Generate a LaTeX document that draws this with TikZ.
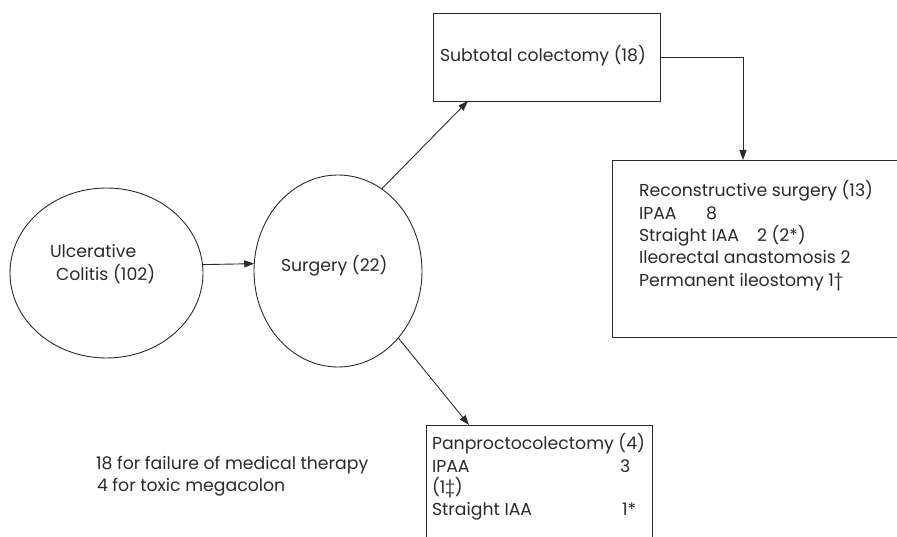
\documentclass[tikz,border=0pt]{standalone}
\usepackage{fontspec}
\setmainfont{Poppins}
\usetikzlibrary{shapes.geometric,arrows.meta}
\definecolor{ink}{HTML}{2A2A2A}
\begin{document}
\begin{tikzpicture}[x=1pt,y=-1pt,
  every node/.style={inner sep=0pt, outer sep=0pt},
  txt/.style={anchor=base west, font=\fontsize{17.3}{20}\selectfont, text=ink},
  bx/.style={draw=ink, line width=0.9pt, rectangle, anchor=north west},
  openbx/.style={rectangle, anchor=north west},
  edge/.style={draw=ink, line width=0.9pt},
  ell/.style={draw=ink, line width=0.9pt, ellipse},
  conn/.style={draw=ink, line width=0.9pt, -{Triangle[length=10pt,width=7pt]}}]
\useasboundingbox (0,0) rectangle (897,537);
\clip (0,0) rectangle (897,537);

% shapes
\node[ell, minimum width=193pt, minimum height=170pt] (uc) at (106.5,273) {};
\node[ell, minimum width=168pt, minimum height=192pt] (surg) at (338,271) {};
\node[bx, minimum width=227pt, minimum height=88pt] (sub) at (433,13) {};
\node[openbx, minimum width=300pt, minimum height=177pt] (rec) at (612,160) {};
\node[openbx, minimum width=226pt, minimum height=125pt] (pan) at (426,425) {};
% the two lower boxes run off the edge of the figure
\path[edge] (rec.north east) -- (rec.north west) -- (rec.south west) -- (rec.south east);
\path[edge] (pan.south west) -- (pan.north west) -- (pan.north east) -- (pan.south east);

% texts
\node[txt] (uc1) at (50,258) {Ulcerative};
\node[txt] (uc2) at (56,281) {Colitis (102)};
\node[txt] (sg) at (281,272) {Surgery (22)};
\node[txt] (st) at (440,62) {Subtotal colectomy (18)};

\node[txt] (r1) at (639,197) {Reconstructive surgery (13)};
\node[txt] (r2) at (639,220) {IPAA};
\node[txt] (r2n) at (706,220) {8};
\node[txt] (r3) at (639,242) {Straight IAA};
\node[txt] (r3n) at (757,242) {2 (2*)};
\node[txt] (r4) at (639,264) {Ileorectal anastomosis 2};
\node[txt] (r5) at (639,287) {Permanent ileostomy 1†};

\node[txt] (p1) at (432,449) {Panproctocolectomy (4)};
\node[txt] (p2) at (432,472) {IPAA};
\node[txt] (p2n) at (620,472) {3};
\node[txt] (p3) at (432,493) {(1‡)};
\node[txt] (p4) at (432,515) {Straight IAA};
\node[txt] (p4n) at (622,515) {1*};

\node[txt] (n1) at (96,469) {18 for failure of medical therapy};
\node[txt] (n2) at (97,491) {4 for toxic megacolon};

% connectors
\draw[conn] (uc.5.4) -- (surg.175.2);
\draw[conn] (surg.62) -- ([xshift=35pt]sub.south west);
\draw[conn] (surg.-48.6) -- ([xshift=43pt]pan.north west);
\draw[conn] (sub.east) -| ([xshift=131pt]rec.north west);
\end{tikzpicture}
\end{document}
